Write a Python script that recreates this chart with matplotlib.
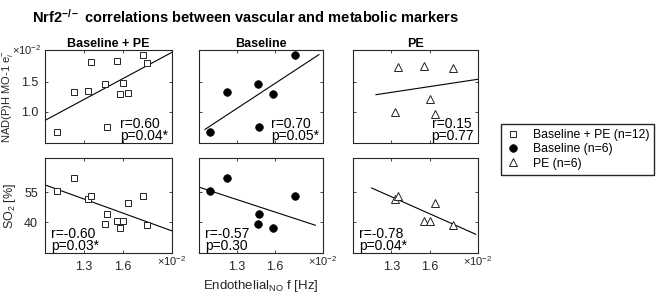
import numpy as np
import matplotlib
matplotlib.use("Agg")
import matplotlib.pyplot as plt
from matplotlib.lines import Line2D

plt.rcParams['font.family'] = ['Liberation Sans', 'DejaVu Sans']
plt.rcParams['mathtext.fontset'] = 'custom'
plt.rcParams['mathtext.rm'] = 'Liberation Sans'
plt.rcParams['mathtext.it'] = 'Liberation Sans:italic'
plt.rcParams['mathtext.bf'] = 'Liberation Sans:bold'

# Data (x in units of 1e-2 Hz)
x_base = [1.09, 1.225, 1.465, 1.478, 1.582, 1.755]
nadh_base = [0.66, 1.33, 1.46, 0.745, 1.30, 1.945]
so2_base = [55.7, 62.4, 39.0, 44.1, 37.3, 53.2]

x_pe = [1.331, 1.352, 1.558, 1.605, 1.642, 1.785]
nadh_pe = [1.34, 1.83, 1.85, 1.48, 1.32, 1.82]
so2_pe = [51.6, 53.3, 40.8, 40.8, 49.8, 38.7]

panel_titles = ["Baseline + PE", "Baseline", "PE"]
stats_top = ["r=0.60\np=0.04*", "r=0.70\np=0.05*", "r=0.15\np=0.77"]
stats_bottom = ["r=-0.60\np=0.03*", "r=-0.57\np=0.30", "r=-0.78\np=0.04*"]
# x extent of each regression line
fit_span_top = [(1.0, 1.98), (1.047, 1.948), (1.18, 1.98)]
fit_span_bottom = [(1.0, 1.98), (1.0, 1.92), (1.146, 1.963)]
legend_labels = ["Baseline + PE (n=12)", "Baseline (n=6)", "PE (n=6)"]

x_all = x_base + x_pe
groups = [
    (x_all, nadh_base + nadh_pe, so2_base + so2_pe),
    (x_base, nadh_base, so2_base),
    (x_pe, nadh_pe, so2_pe),
]
styles = [
    dict(marker='s', ms=5, mfc='white', mec='#222222', mew=0.7),
    dict(marker='o', ms=5.5, mfc='black', mec='black', mew=0.5),
    dict(marker='^', ms=6, mfc='white', mec='#222222', mew=0.7),
]

W, H = 660, 296
fig = plt.figure(figsize=(W / 100, H / 100), dpi=100)

lefts = [45, 199, 353]
widths = [127, 124, 125]

def px_axes(x0, y0, w, h):
    return fig.add_axes([x0 / W, 1 - (y0 + h) / H, w / W, h / H])

tick_col = '#262626'

for i in range(3):
    xs, ys_top, ys_bot = groups[i]
    for row in range(2):
        if row == 0:
            ax = px_axes(lefts[i], 50, widths[i], 93)
            ys = ys_top
            span = fit_span_top[i]
        else:
            ax = px_axes(lefts[i], 158, widths[i], 95)
            ys = ys_bot
            span = fit_span_bottom[i]

        ax.plot(xs, ys, ls='none', **styles[i], zorder=3)
        k, b = np.polyfit(xs, ys, 1)
        lx = np.array(span)
        ax.plot(lx, k * lx + b, color='black', lw=0.8, zorder=2)

        ax.set_xlim(1.0, 1.98)
        ax.set_xticks([1.3, 1.6])
        if row == 0:
            if i == 2:
                ax.set_ylim(0.993, 2.024)
                ax.set_yticks([1.339, 1.671])
            else:
                ax.set_ylim(0.48, 2.03)
                ax.set_yticks([1.0, 1.5])
            ax.set_yticklabels(['1.0', '1.5'] if i == 0 else [])
            ax.set_xticklabels([])
            ax.set_title(panel_titles[i], fontsize=9, fontweight='bold', pad=2)
            ax.text(0.97, 0.0, stats_top[i], transform=ax.transAxes, ha='right', va='bottom',
                    multialignment='left', fontsize=10, linespacing=0.8)
        else:
            ax.set_ylim(24.6, 72.2)
            ax.set_yticks([40, 55])
            ax.set_yticklabels(['40', '55'] if i == 0 else [])
            ax.set_xticklabels(['1.3', '1.6'])
            ax.text(0.05, 0.0, stats_bottom[i], transform=ax.transAxes, ha='left', va='bottom',
                    multialignment='left', fontsize=10, linespacing=0.8)
            ax.text(1.0, -0.01, r'$\times10^{-2}$', transform=ax.transAxes, ha='center', va='top',
                    fontsize=8, color=tick_col)

        ax.tick_params(direction='in', length=2.5, width=0.6, top=True, right=True,
                       labelsize=9, colors=tick_col)
        ax.tick_params(axis='x', pad=6)
        ax.tick_params(axis='y', pad=5)
        for s in ax.spines.values():
            s.set_linewidth(0.8)
            s.set_color('#262626')

        if i == 0 and row == 0:
            ax.set_ylabel(r'NAD(P)H MO-1 e$^{-}_{i}$', fontsize=8, color=tick_col, labelpad=4)
            ax.text(-0.03, 1.0, r'$\times10^{-2}$', transform=ax.transAxes, ha='right', va='center',
                    fontsize=8, color=tick_col)
        if i == 0 and row == 1:
            ax.set_ylabel(r'SO$_2$ [%]', fontsize=9, color=tick_col, labelpad=4)
        if i == 1 and row == 1:
            ax.set_xlabel(r'Endothelial$_{\mathrm{NO}}$ f [Hz]', fontsize=9.5, color=tick_col, labelpad=3)

fig.text(32 / W, 1 - 17 / H, r'Nrf2$^{\mathbf{-/-}}$ correlations between vascular and metabolic markers',
         fontsize=10.5, fontweight='bold', ha='left', va='center')

handles = [Line2D([], [], ls='none', **styles[0]),
           Line2D([], [], ls='none', **styles[1]),
           Line2D([], [], ls='none', **styles[2])]
handles[0].set_markersize(4)
fig.legend(handles, legend_labels, loc='upper left', bbox_to_anchor=(501 / W, 1 - 124 / H),
           fontsize=8.8, frameon=True, fancybox=False, edgecolor='#262626', framealpha=1,
           borderpad=0.4, handletextpad=1.0, labelspacing=0.2, handlelength=1.2, borderaxespad=0)

fig.savefig('out.png', dpi=100)
